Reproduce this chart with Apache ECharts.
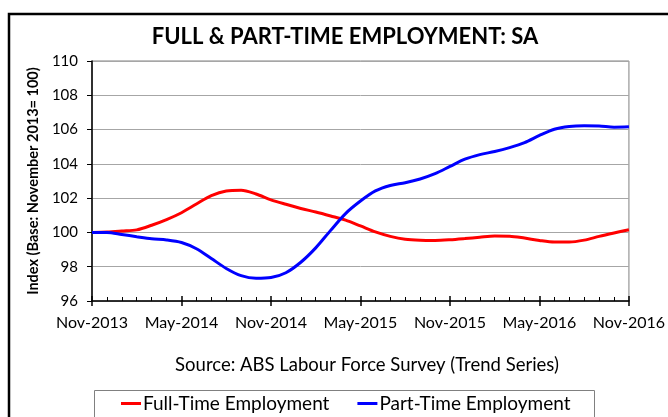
<!DOCTYPE html>
<html>
<head>
<meta charset="utf-8">
<script src="https://cdn.jsdelivr.net/npm/echarts@6/dist/echarts.min.js"></script>
<style>
  html, body { margin: 0; padding: 0; background: #fff; }
  #chart { width: 668px; height: 417px; }
</style>
</head>
<body>
<div id="chart"></div>
<script>
// monthly points, Nov-2013 .. Nov-2016
const months = [
  "Nov-2013", "Dec-2013", "Jan-2014", "Feb-2014", "Mar-2014", "Apr-2014",
  "May-2014", "Jun-2014", "Jul-2014", "Aug-2014", "Sep-2014", "Oct-2014",
  "Nov-2014", "Dec-2014", "Jan-2015", "Feb-2015", "Mar-2015", "Apr-2015",
  "May-2015", "Jun-2015", "Jul-2015", "Aug-2015", "Sep-2015", "Oct-2015",
  "Nov-2015", "Dec-2015", "Jan-2016", "Feb-2016", "Mar-2016", "Apr-2016",
  "May-2016", "Jun-2016", "Jul-2016", "Aug-2016", "Sep-2016", "Oct-2016",
  "Nov-2016"
];

const fullTime = [
  100.0, 100.02, 100.08, 100.15, 100.42, 100.75, 101.15, 101.66, 102.15, 102.42,
  102.46, 102.24, 101.9, 101.64, 101.4, 101.19, 100.96, 100.72, 100.38, 100.03,
  99.77, 99.6, 99.54, 99.53, 99.57, 99.64, 99.72, 99.79, 99.78, 99.67,
  99.53, 99.44, 99.44, 99.55, 99.77, 99.97, 100.16
];

const partTime = [
  100.0, 100.0, 99.88, 99.75, 99.63, 99.56, 99.41, 99.05, 98.48, 97.9,
  97.48, 97.33, 97.37, 97.65, 98.26, 99.1, 100.12, 101.1, 101.83, 102.42,
  102.74, 102.9, 103.12, 103.43, 103.85, 104.27, 104.54, 104.72, 104.95, 105.24,
  105.66, 106.02, 106.18, 106.22, 106.21, 106.14, 106.16
];

const seriesNames = ["Full-Time Employment", "Part-Time Employment"];

const font = "Lato, 'Noto Sans', sans-serif";

const chart = echarts.init(document.getElementById("chart"));

const toPairs = (arr) => arr.map((v, i) => [i, v]);

const option = {
  animation: false,
  textStyle: { fontFamily: font },
  title: {
    text: "FULL & PART-TIME EMPLOYMENT: SA",
    left: 345,
    top: 26,
    padding: 0,
    textAlign: "center",
    textStyle: { fontSize: 22, fontWeight: "bold", color: "#000", fontFamily: font }
  },
  graphic: [
    {
      // outer chart frame, runs off the right and bottom edges
      type: "rect",
      shape: { x: 9, y: 14, width: 720, height: 450 },
      style: { fill: null, stroke: "#000", lineWidth: 2.5 },
      silent: true
    },
    {
      type: "text",
      x: 367,
      y: 365,
      style: {
        text: "Source: ABS Labour Force Survey (Trend Series)",
        fontSize: 18.5,
        fontFamily: font,
        fill: "#000",
        align: "center",
        verticalAlign: "middle"
      }
    },
    {
      // legend frame
      type: "rect",
      shape: { x: 94.5, y: 390.5, width: 500, height: 40 },
      style: { fill: null, stroke: "#808080", lineWidth: 1 },
      silent: true
    }
  ],
  legend: {
    data: seriesNames,
    left: 121,
    top: 394,
    itemGap: 28,
    itemWidth: 20,
    itemHeight: 3,
    icon: "rect",
    padding: 0,
    textStyle: { fontSize: 19, color: "#000", fontFamily: font, padding: [0, 0, 0, -3] }
  },
  grid: {
    left: 92,
    right: 35,
    top: 61,
    bottom: 116,
    show: true,
    borderColor: "#808080",
    borderWidth: 1
  },
  xAxis: [
    {
      type: "value",
      min: 0,
      max: 36,
      interval: 6,
      axisLine: { lineStyle: { color: "#000", width: 1.5 } },
      axisTick: { inside: true, length: 5, lineStyle: { color: "#000", width: 1.5 } },
      minorTick: { show: true, splitNumber: 6, length: 4, lineStyle: { color: "#000", width: 1 } },
      axisLabel: {
        formatter: (v) => months[v] || "",
        fontSize: 16,
        color: "#000",
        margin: 14,
        fontFamily: font
      },
      splitLine: { show: false }
    },
    {
      // outer half of the major ticks
      type: "value",
      min: 0,
      max: 36,
      interval: 6,
      position: "bottom",
      axisLine: { show: false },
      axisTick: { inside: false, length: 5, lineStyle: { color: "#000", width: 1.5 } },
      axisLabel: { show: false },
      splitLine: { show: false }
    }
  ],
  yAxis: {
    type: "value",
    min: 96,
    max: 110,
    interval: 2,
    name: "Index (Base: November 2013= 100)",
    nameLocation: "middle",
    nameGap: 41,
    nameTextStyle: { fontSize: 14.5, fontWeight: "bold", color: "#000", fontFamily: font },
    axisLine: { show: true, lineStyle: { color: "#000", width: 1.5 } },
    axisTick: { show: true, length: 5, lineStyle: { color: "#000" } },
    axisLabel: { fontSize: 15, color: "#000", margin: 14, fontFamily: font },
    splitLine: { lineStyle: { color: "#a6a6a6", width: 1 } }
  },
  series: [
    {
      name: seriesNames[0],
      type: "line",
      data: toPairs(fullTime),
      showSymbol: false,
      smooth: 0.3,
      lineStyle: { color: "#ff0000", width: 3 },
      itemStyle: { color: "#ff0000" }
    },
    {
      name: seriesNames[1],
      type: "line",
      data: toPairs(partTime),
      showSymbol: false,
      smooth: 0.3,
      lineStyle: { color: "#0000ff", width: 3 },
      itemStyle: { color: "#0000ff" }
    }
  ]
};

chart.setOption(option);
</script>
</body>
</html>
